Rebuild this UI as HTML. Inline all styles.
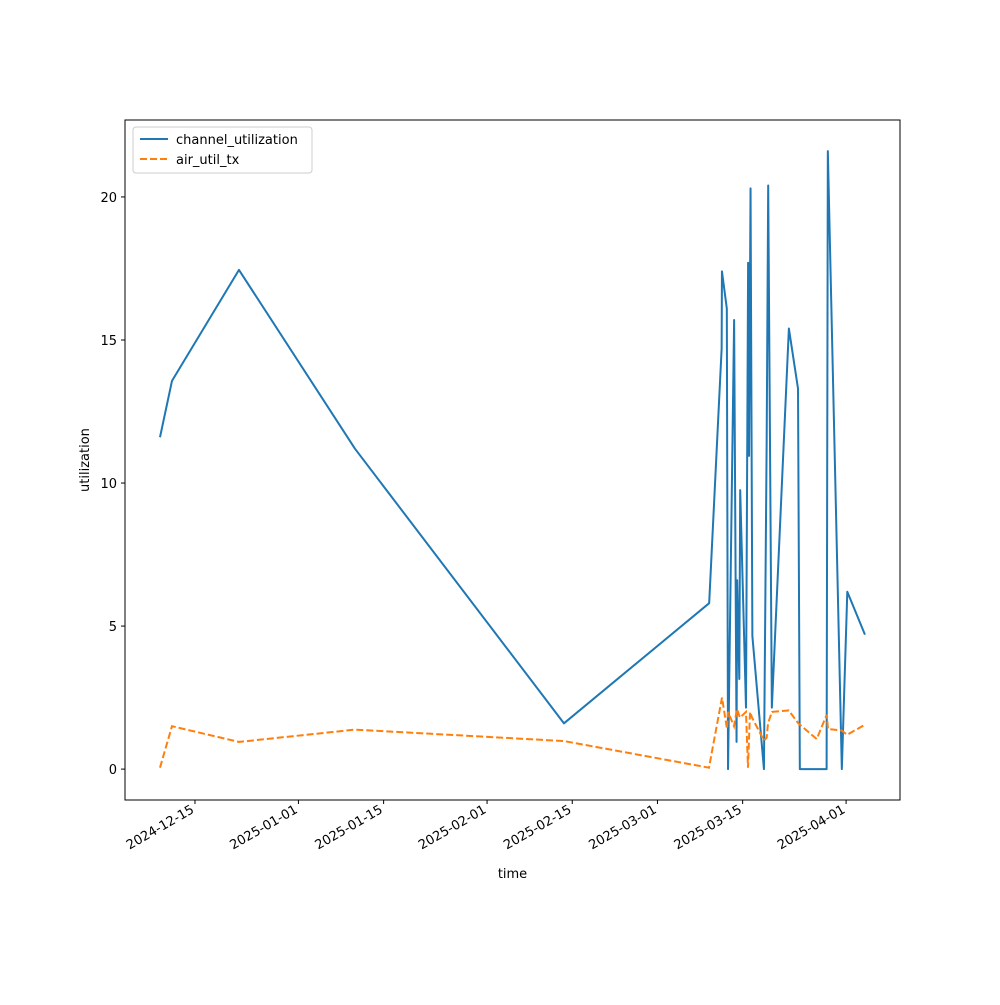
<!DOCTYPE html>
<html><head><meta charset="utf-8"><style>
body{margin:0;background:#fff;font-family:"Liberation Sans","DejaVu Sans",sans-serif}
svg text{font-family:"DejaVu Sans","Liberation Sans",sans-serif;font-size:13px;fill:#000}
</style></head><body>
<svg id="chart" width="1000" height="1000" viewBox="0 0 1000 1000" xmlns="http://www.w3.org/2000/svg"></svg>
<script>
// days since 2024-12-15
const blueDays=[-5.75,-3.78,7.23,26.29,60.64,84.5,86.55,86.6,87.4,87.6,88.6,89.0,89.1,89.45,89.6,90.55,90.9,91.05,91.3,91.6,93.5,93.95,94.2,94.8,97.6,99.1,99.4,103.8,104.0,106.3,107.2,110.1];
const blueVals=[11.6,13.57,17.45,11.2,1.6,5.8,14.7,17.4,16.1,0,15.7,0.95,6.6,3.15,9.75,2.15,17.7,10.95,20.3,4.65,0,11.5,20.4,2.15,15.4,13.3,0,0,21.6,0,6.2,4.7];
const orangeDays=[-5.75,-3.78,7.23,26.29,60.64,84.47,86.61,87.43,87.59,88.58,89.07,89.56,90.55,90.88,91.21,91.54,93.51,93.95,94.17,94.82,97.57,99.15,102.17,103.81,104.03,106.28,107.15,110.1];
const orangeVals=[0.05,1.5,0.95,1.38,0.98,0.05,2.5,1.4,2.0,1.5,2.1,1.8,2.0,0.05,2.0,1.8,1.0,1.1,1.6,2.0,2.05,1.6,1.05,1.9,1.4,1.35,1.2,1.55];
const xTickDays=[0,17,31,48,62,76,90,107];
const xTickLabels=["2024-12-15","2025-01-01","2025-01-15","2025-02-01","2025-02-15","2025-03-01","2025-03-15","2025-04-01"];
const yTicks=[0,5,10,15,20];

const L=125,R=900,T=120,B=800;
const xMin=-11.5,xMax=115.86,yMin=-1.08,yMax=22.69;
const X=d=>L+(d-xMin)/(xMax-xMin)*(R-L);
const Y=v=>B-(v-yMin)/(yMax-yMin)*(B-T);
const svg=document.getElementById('chart');
const NS='http://www.w3.org/2000/svg';
function mk(tag,attrs){const e=document.createElementNS(NS,tag);for(const k in attrs)e.setAttribute(k,attrs[k]);svg.appendChild(e);return e;}

const frame=mk('rect',{x:L,y:T,width:R-L,height:B-T,fill:'none',stroke:'#000','stroke-width':1});



xTickDays.forEach((d,i)=>{
  const x=X(d);
  const t=mk('line',{x1:x,y1:B,x2:x,y2:B+4,stroke:'#000'});
  
  
  const lb=mk('text',{x:x,y:B+12,'text-anchor':'end',transform:`rotate(-30 ${x} ${B+12})`});
  lb.textContent=xTickLabels[i];
  
  
});
yTicks.forEach(v=>{
  const y=Y(v);
  const t=mk('line',{x1:L-4,y1:y,x2:L,y2:y,stroke:'#000'});
  
  
  const lb=mk('text',{x:L-8,y:y+5,'text-anchor':'end'});
  lb.textContent=v;
  
  
});

const bp=mk('polyline',{points:blueDays.map((d,i)=>X(d)+','+Y(blueVals[i])).join(' '),fill:'none',stroke:'#1f77b4','stroke-width':2,'stroke-linejoin':'round'});


const op=mk('polyline',{points:orangeDays.map((d,i)=>X(d)+','+Y(orangeVals[i])).join(' '),fill:'none',stroke:'#ff7f0e','stroke-width':2,'stroke-dasharray':'7,3'});



const xt=mk('text',{x:(L+R)/2,y:878,'text-anchor':'middle'});xt.textContent='time';


const yt=mk('text',{x:89,y:(T+B)/2,'text-anchor':'middle',transform:`rotate(-90 89 ${(T+B)/2})`});yt.textContent='utilization';



const lg=mk('rect',{x:133,y:127,width:179,height:46,rx:3,fill:'#fff',stroke:'#ccc'});


const l1=mk('line',{x1:140,y1:139,x2:168,y2:139,stroke:'#1f77b4','stroke-width':2});


const t1=mk('text',{x:176,y:144});t1.textContent='channel_utilization';


const l2=mk('line',{x1:140,y1:159,x2:168,y2:159,stroke:'#ff7f0e','stroke-width':2,'stroke-dasharray':'7,3'});


const t2=mk('text',{x:176,y:164});t2.textContent='air_util_tx';


</script>
</body></html>
